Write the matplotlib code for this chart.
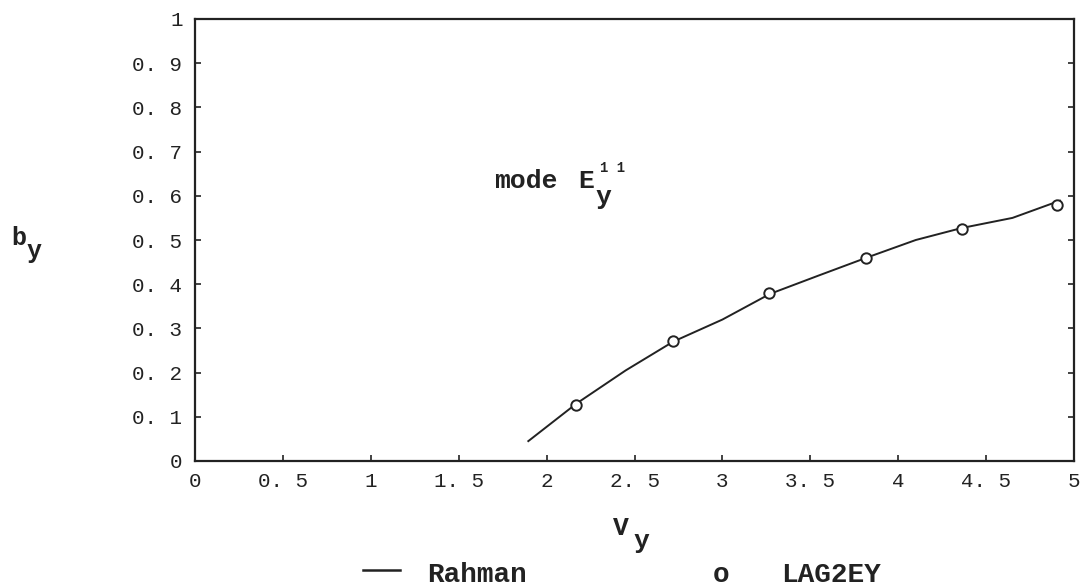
import matplotlib
matplotlib.use("Agg")
import matplotlib.pyplot as plt
from matplotlib.lines import Line2D

# Rahman curve
rahman_v = [1.896, 2.17, 2.45, 2.72, 3.0, 3.27, 3.55, 3.82, 4.1, 4.36, 4.65, 4.92]
rahman_b = [0.045, 0.13, 0.205, 0.27, 0.32, 0.378, 0.42, 0.46, 0.50, 0.527, 0.55, 0.589]

# LAG2EY points
lag_v = [2.17, 2.72, 3.267, 3.817, 4.362, 4.902]
lag_b = [0.127, 0.272, 0.381, 0.460, 0.524, 0.579]

x_ticks = [0, 0.5, 1, 1.5, 2, 2.5, 3, 3.5, 4, 4.5, 5]
x_labels = ["0", "0. 5", "1", "1. 5", "2", "2. 5", "3", "3. 5", "4", "4. 5", "5"]
y_ticks = [0, 0.1, 0.2, 0.3, 0.4, 0.5, 0.6, 0.7, 0.8, 0.9, 1]
y_labels = ["0", "0. 1", "0. 2", "0. 3", "0. 4", "0. 5", "0. 6", "0. 7", "0. 8", "0. 9", "1"]

W, H = 1084, 588
MONO = "Liberation Mono"
INK = "#222222"

fig = plt.figure(figsize=(W / 100, H / 100), dpi=100)
ax = fig.add_axes([195 / W, 1 - 461 / H, (1074 - 195) / W, (461 - 19) / H])

ax.plot(rahman_v, rahman_b, color=INK, lw=1.4)
ax.plot(lag_v, lag_b, ls="none", marker="o", ms=7.5, mfc="white", mec=INK, mew=1.4)

ax.set_xlim(0, 5)
ax.set_ylim(0, 1)
ax.set_xticks(x_ticks)
ax.set_xticklabels(x_labels, fontfamily=MONO, fontsize=15)
ax.set_yticks(y_ticks)
ax.set_yticklabels(y_labels, fontfamily=MONO, fontsize=15)
ax.tick_params(axis="both", direction="in", length=4, width=1.2, color=INK, labelcolor=INK)
ax.tick_params(axis="x", pad=8)
ax.tick_params(axis="y", pad=9, right=True)
for s in ax.spines.values():
    s.set_linewidth(1.6)
    s.set_color(INK)


def ftext(x, y, s, size, **kw):
    fig.text(x / W, 1 - y / H, s, fontsize=size, fontfamily=MONO, fontweight="bold",
             color=INK, ha="left", va="baseline", **kw)


# axis labels
ftext(11, 245, "b", 18)
ftext(27, 258, "y", 18)
ftext(613, 535, "V", 19)
ftext(633, 548, "y", 19)

# annotation
ftext(494, 188, "mode", 19)
ftext(578, 188, "E", 19)
ftext(595, 204, "y", 19)
ftext(600, 172, "1 1", 10)

# legend
fig.add_artist(Line2D([363 / W, 400 / W], [1 - 570 / H, 1 - 570 / H], color=INK, lw=1.8))
ftext(427, 582, "Rahman", 20)
ftext(713, 582, "o", 20)
ftext(781, 582, "LAG2EY", 20)

fig.savefig("out.png", dpi=100)
